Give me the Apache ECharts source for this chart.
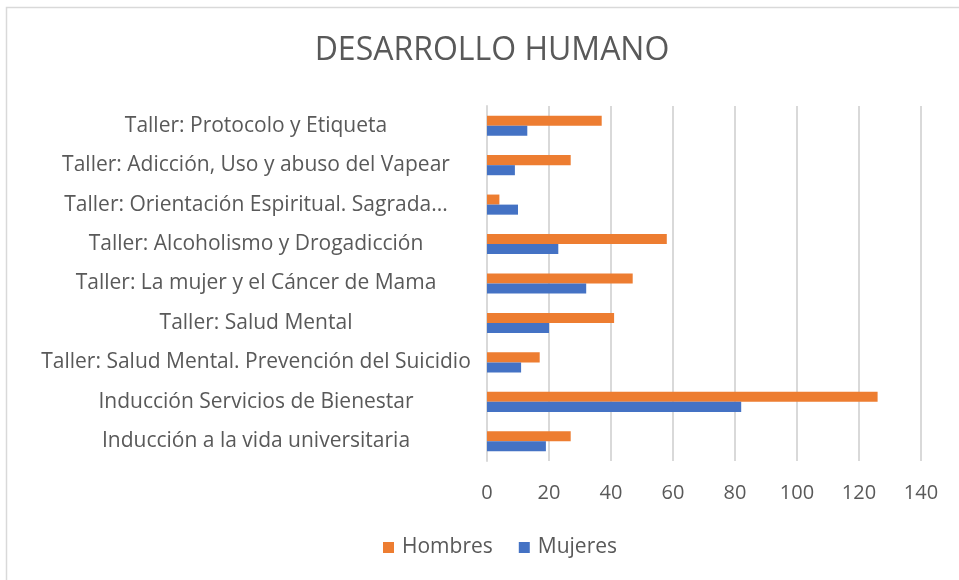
<!DOCTYPE html>
<html>
<head>
<meta charset="utf-8">
<script src="https://cdn.jsdelivr.net/npm/echarts@6/dist/echarts.min.js"></script>
<style>
  html, body { margin: 0; padding: 0; background: #fff; }
  #chart { width: 959px; height: 580px; }
</style>
</head>
<body>
<div id="chart"></div>
<script>
// Workshops, listed bottom to top as they appear on the vertical axis
const categories = [
  'Inducción a la vida universitaria',
  'Inducción Servicios de Bienestar',
  'Taller: Salud Mental. Prevención del Suicidio',
  'Taller: Salud Mental',
  'Taller: La mujer y el Cáncer de Mama',
  'Taller: Alcoholismo y Drogadicción',
  'Taller: Orientación Espiritual. Sagrada...',
  'Taller: Adicción, Uso y abuso del Vapear',
  'Taller: Protocolo y Etiqueta'
];
const hombres = [27, 126, 17, 41, 47, 58, 4, 27, 37];
const mujeres = [19, 82, 11, 20, 32, 23, 10, 9, 13];
const xTicks = [0, 20, 40, 60, 80, 100, 120, 140];

const FONT = '"Open Sans", Lato, sans-serif';
const TEXT = '#595959';

const chart = echarts.init(document.getElementById('chart'));
chart.setOption({
  animation: false,
  backgroundColor: '#fff',
  graphic: [{
    type: 'rect',
    shape: { x: 6.5, y: 7.5, width: 1000, height: 700 },
    style: { fill: 'none', stroke: '#d9d9d9', lineWidth: 1.5 },
    silent: true
  }],
  title: {
    text: 'DESARROLLO HUMANO',
    left: 487,
    textAlign: 'center',
    top: 30,
    textStyle: { fontFamily: FONT, fontSize: 32, fontWeight: 'normal', color: TEXT }
  },
  legend: {
    data: ['Hombres', 'Mujeres'],
    bottom: 17,
    left: 378,
    itemWidth: 11,
    itemHeight: 11,
    itemGap: 26,
    icon: 'rect',
    textStyle: { fontFamily: FONT, fontSize: 21, color: TEXT, padding: [0, 0, 0, 3] }
  },
  grid: { left: 487, right: 38, top: 106, bottom: 119, containLabel: false },
  xAxis: {
    type: 'value',
    min: xTicks[0],
    max: xTicks[xTicks.length - 1],
    interval: xTicks[1] - xTicks[0],
    axisLine: { show: false },
    axisTick: { show: false },
    axisLabel: { fontFamily: FONT, fontSize: 20, color: TEXT, margin: 22 },
    splitLine: { lineStyle: { color: '#d9d9d9', width: 2 } }
  },
  yAxis: {
    type: 'category',
    data: categories,
    axisLine: { lineStyle: { color: '#d9d9d9', width: 2 } },
    axisTick: { show: false },
    axisLabel: {
      fontFamily: FONT, fontSize: 21, color: TEXT,
      align: 'center', margin: 231
    }
  },
  series: [
    {
      name: 'Hombres',
      type: 'bar',
      data: hombres,
      barGap: '0%',
      barCategoryGap: '49%',
      itemStyle: { color: '#ed7d31' }
    },
    {
      name: 'Mujeres',
      type: 'bar',
      data: mujeres,
      barGap: '0%',
      barCategoryGap: '49%',
      itemStyle: { color: '#4472c4' }
    }
  ]
});
</script>
</body>
</html>
